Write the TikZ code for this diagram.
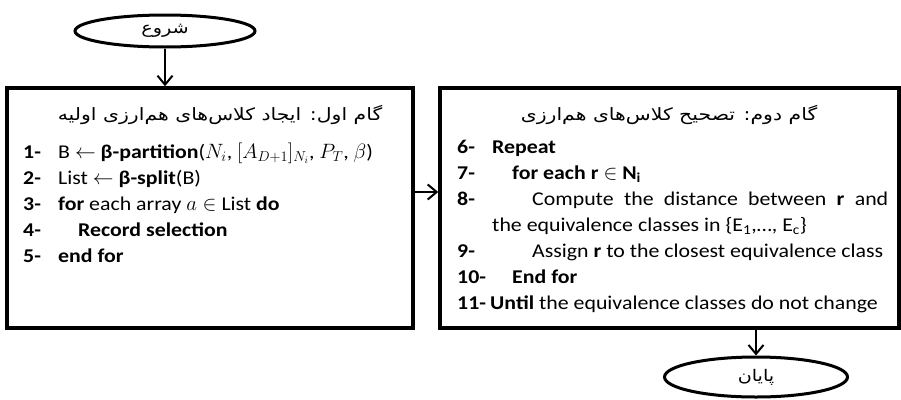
\documentclass[tikz,border=0pt]{standalone}
\usepackage{fontspec}
\setmainfont{Carlito}[FakeStretch=1.12]
\newfontfamily\fa[Script=Arabic,FakeStretch=1.2]{DejaVu Sans}
\TeXXeTstate=1
\usetikzlibrary{arrows.meta,positioning,shapes.geometric}

\begin{document}
\begin{tikzpicture}[x=1pt,y=-1pt,
  term/.style={ellipse,draw,line width=3pt,minimum width=180pt,minimum height=32pt,inner sep=0pt,font=\fa\fontsize{16}{18}\selectfont},
  blk/.style={draw,line width=3.5pt,inner sep=0pt},
  ttl/.style={anchor=base,inner sep=0pt,font=\fa\fontsize{17}{19}\selectfont},
  num/.style={anchor=base west,inner sep=0pt,font=\fontsize{19.5}{22}\selectfont\bfseries},
  ln/.style={anchor=base west,inner sep=0pt,font=\fontsize{19.5}{22}\selectfont},
  ar/.style={-{Straight Barb[length=9pt,width=15pt,line width=2pt]},line width=2pt}]
\useasboundingbox (0,0) rectangle (901,399);
\node[term] (start) at (165,31) {\beginR شروع\endR};
\node[blk,minimum width=406pt,minimum height=240pt] (left) at (210,208) {};
\node[blk,minimum width=459pt,minimum height=240pt] (right) at (669.5,208) {};
\node[term,minimum width=183pt,minimum height=40pt] (stop) at (756,377) {\beginR پایان\endR};
% step one
\node[ttl] (h1) at (220,120) {\beginR گام اول: ایجاد کلاس‌های هم‌ارزی اولیه\endR};
\foreach \i/\y in {1/158,2/184,3/210,4/236,5/262} \node[num] (n\i) at (23,\y) {\i-};
\node[ln] (t1) at (58,158) {B $\leftarrow$ \textbf{β-partition}($N_i$, $[A_{D+1}]_{N_i}$, $P_T$, $\beta$)};
\node[ln] (t2) at (58,184) {List $\leftarrow$ \textbf{β-split}(B)};
\node[ln] (t3) at (58,210) {\textbf{for} each array $a \in$ List \textbf{do}};
\node[ln] (t4) at (78,236) {\textbf{Record selection}};
\node[ln] (t5) at (58,262) {\textbf{end for}};
% step two
\node[ttl] (h2) at (669,120) {\beginR گام دوم: تصحیح کلاس‌های هم‌ارزی\endR};
\foreach \i/\y in {6/153,7/179,8/205,9/257,10/283,11/309} \node[num] (n\i) at (457,\y) {\i-};
\node[ln] (t6) at (492,153) {\textbf{Repeat}};
\node[ln] (t7) at (512,179) {\textbf{for each r} $\in$ \textbf{N\textsubscript{i}}};
\node[ln] (t8) at (532,205) {\makebox[356pt][s]{Compute the distance between \textbf{r} and}};
\node[ln] (t8b) at (492,231) {the equivalence classes in \{E\textsubscript{1},…, E\textsubscript{c}\}};
\node[ln] (t9) at (532,257) {Assign \textbf{r} to the closest equivalence class};
\node[ln] (t10) at (512,283) {\textbf{End for}};
\node[ln] (t11) at (490,309) {\textbf{Until} the equivalence classes do not change};
\draw[ar] (start.south) -- (start.south |- left.north);
\draw[ar] (left.east |- 0,192) -- (right.west |- 0,192);
\draw[ar] (stop.north |- right.south) -- (stop.north);
\end{tikzpicture}
\end{document}
